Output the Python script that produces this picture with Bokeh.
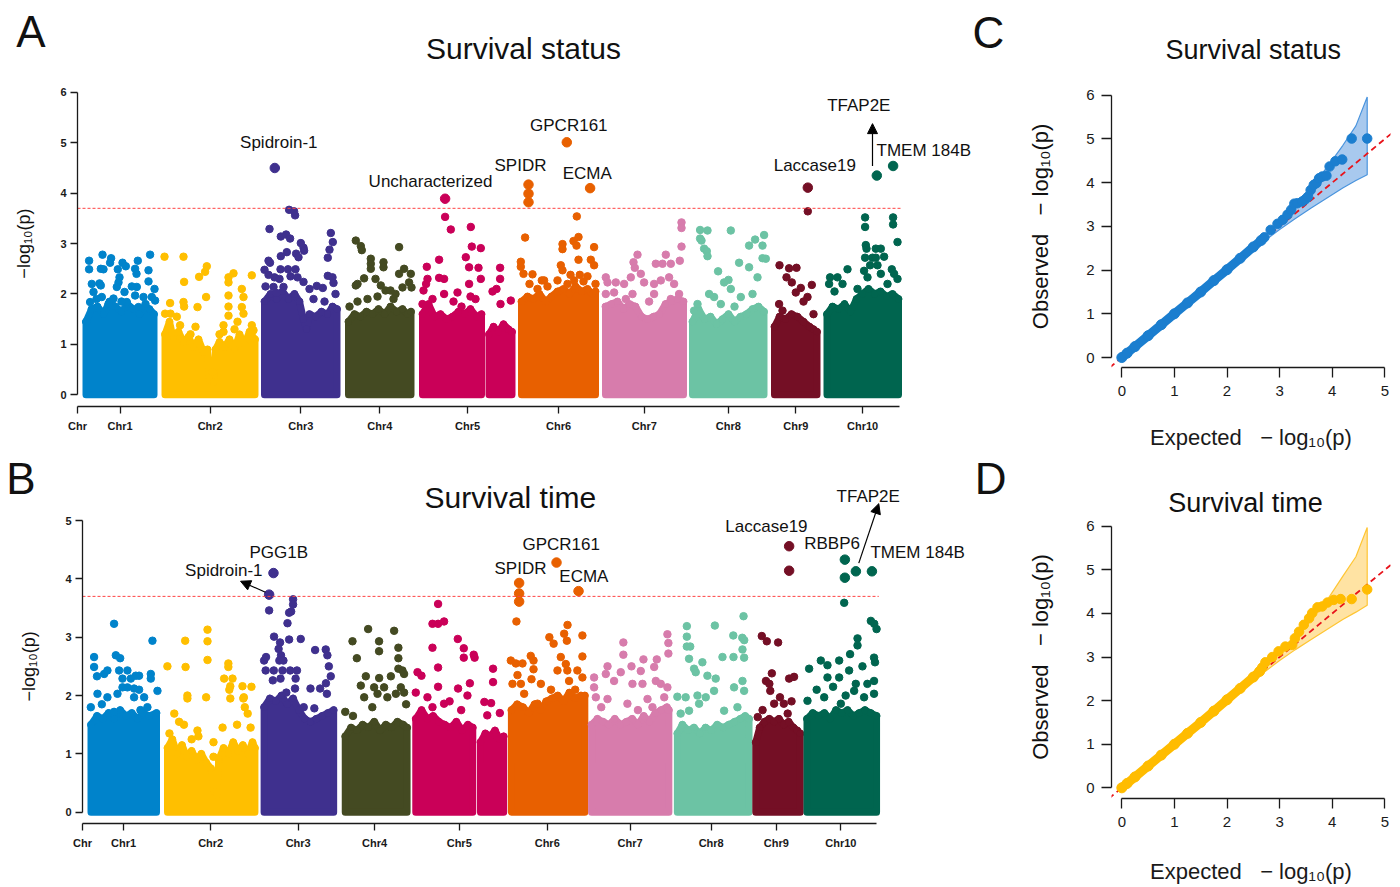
from bokeh.plotting import figure
from bokeh.layouts import row, column
from bokeh.models import FixedTicker, Label, Arrow, NormalHead, Slope, LinearAxis
from bokeh.embed import file_html
from bokeh.resources import INLINE

FONT = "Liberation Sans"

# ---------------- chromosome layout (genome position units) ----------------
chr_names = ["Chr1", "Chr2", "Chr3", "Chr4", "Chr5", "Chr6", "Chr7", "Chr8", "Chr9", "Chr10"]
chr_colors = ["#0083CB", "#FFBF00", "#3F308E", "#444A22", "#CA0058",
              "#E86000", "#D77CAC", "#6CC3A4", "#740F25", "#00654F"]
chr_start = [5.0, 84.3, 183.3, 267.3, 341.6, 440.6, 524.3, 611.6, 693.3, 746.0]
chr_end = [80.0, 181.0, 263.3, 337.3, 438.3, 521.6, 609.3, 690.0, 743.3, 824.3]
genome_end = 821.5
threshold = 3.7

# ---------------- Panel A (survival status): dense-band upper envelopes ----------------
A_env1 = [(8.5, 1.45), (14, 1.7), (20, 1.75), (26, 1.6), (32, 1.85), (38, 1.75), (44, 1.65), (50, 1.8),
          (56, 1.7), (62, 1.6), (68, 1.75), (72, 1.7), (76.5, 1.6)]
A_env2 = [(87.5, 1.2), (92, 1.45), (96, 1.1), (101, 1.25), (106, 1.05), (111, 1.15), (116, 0.95), (121, 1.1),
          (126, 0.85), (130, 0.9), (132, 0.3), (136, 0.25), (138, 0.9), (142, 1.05), (147, 0.95), (152, 1.1),
          (157, 0.9), (162, 1.2), (167, 1.0), (172, 1.25), (177.5, 1.1)]
A_env3 = [(187, 1.85), (193, 2.0), (199, 1.9), (205, 2.05), (211, 1.9), (217, 2.0), (222, 1.85), (226, 1.5),
          (229, 1.3), (232, 1.6), (238, 1.55), (244, 1.65), (250, 1.6), (255, 1.75), (259.5, 1.7)]
A_env4 = [(271, 1.45), (277, 1.6), (283, 1.55), (289, 1.65), (295, 1.6), (301, 1.7), (307, 1.6), (313, 1.75),
          (319, 1.65), (325, 1.7), (330, 1.6), (333.5, 1.65)]
A_env5a = [(345, 1.6), (351, 1.8), (357, 1.55), (363, 1.6), (369, 1.5), (375, 1.55), (381, 1.65), (387, 1.6),
           (393, 1.7), (399, 1.55), (404, 1.6)]
A_env5b = [(411.5, 1.2), (416, 1.35), (421, 1.25), (426, 1.4), (431, 1.3), (434.5, 1.25)]
A_env6 = [(444, 1.85), (450, 1.95), (456, 1.9), (462, 2.0), (468, 1.85), (474, 1.95), (480, 2.05), (486, 2.1),
          (492, 2.0), (498, 2.15), (504, 2.05), (510, 2.1), (515, 2.0), (518, 2.05)]
A_env7 = [(528, 1.75), (534, 1.8), (540, 1.85), (546, 1.7), (552, 1.8), (558, 1.75), (564, 1.55), (570, 1.5),
          (576, 1.55), (582, 1.6), (588, 1.8), (594, 1.85), (600, 1.9), (606, 1.85)]
A_env8 = [(615, 1.45), (621, 1.7), (627, 1.5), (633, 1.55), (639, 1.4), (645, 1.5), (651, 1.6), (657, 1.45),
          (663, 1.55), (669, 1.6), (675, 1.7), (681, 1.75), (686.5, 1.65)]
A_env9 = [(697, 1.35), (702, 1.55), (708, 1.5), (714, 1.6), (720, 1.55), (726, 1.45), (732, 1.35), (736, 1.3),
          (739.5, 1.25)]
A_env10 = [(749.5, 1.6), (755, 1.75), (761, 1.7), (767, 1.8), (773, 1.65), (779, 1.9), (785, 2.0), (791, 2.1),
           (797, 2.0), (803, 2.05), (809, 1.95), (815, 2.0), (821, 1.9)]

# ---------------- Panel A: scattered SNPs above the dense band ----------------
A_chr1 = [(11.6, 2.66), (25.0, 2.78), (33.6, 2.71), (32.6, 2.62), (45.0, 2.62), (48.3, 2.55), (60.3, 2.66),
          (72.6, 2.78), (11.6, 2.49), (23.3, 2.50), (26.0, 2.49), (40.3, 2.49), (57.6, 2.50), (71.0, 2.47),
          (59.0, 2.40), (14.3, 2.20), (22.0, 2.21), (23.3, 2.17), (42.0, 2.33), (41.0, 2.23), (39.3, 2.14),
          (54.3, 2.15), (59.3, 2.14), (71.0, 2.25), (77.0, 2.10), (16.0, 2.04), (24.3, 1.94), (36.0, 1.91),
          (47.0, 2.04), (57.6, 1.97), (66.0, 1.94), (74.3, 1.94), (12.6, 1.84), (31.0, 1.80), (49.3, 1.84),
          (61.0, 1.74), (77.6, 1.87), (9.0, 1.45), (19.0, 1.9), (44, 1.85), (68, 1.8)]
A_chr2 = [(87, 2.74), (106, 2.74), (129.3, 2.55), (127.6, 2.44), (121.6, 2.34), (106.6, 2.24), (156, 2.41),
          (151, 2.33), (151, 2.23), (174.3, 2.37), (128.6, 1.94), (120, 1.74), (106, 1.84), (106.6, 1.75),
          (92.6, 1.82), (151, 1.97), (164.3, 2.10), (166, 1.94), (164.3, 1.74), (166, 1.61), (151, 1.75),
          (151, 1.57), (87.6, 1.61), (93, 1.61), (99.3, 1.55), (102.6, 1.38), (146, 1.38), (146, 1.25),
          (174.3, 1.38), (176, 1.28), (113, 1.2), (118, 1.35), (134, 0.6), (135, 0.45), (157, 1.3),
          (160, 1.45), (142, 1.2)]
A_chr3 = [(211.6, 3.67), (216.6, 3.64), (217.6, 3.56), (192, 3.29), (203.3, 3.14), (208.6, 3.18), (212.6, 3.10),
          (223.3, 3.01), (226, 2.92), (226.6, 2.86), (253.3, 3.21), (255.3, 3.03), (209.3, 2.83), (218.6, 2.80),
          (221, 2.73), (203.3, 2.75), (191, 2.66), (192.5, 2.62), (203, 2.49), (210.5, 2.49), (218, 2.49),
          (187, 2.48), (191, 2.38), (197, 2.33), (202, 2.30), (213, 2.35), (220, 2.33), (226, 2.24),
          (239.3, 2.16), (245.3, 2.12), (250.3, 2.36), (255, 2.33), (256, 2.22), (250.3, 2.72), (252, 2.88),
          (206, 2.14), (196, 2.14), (199, 2.02), (188, 2.15), (232, 2.1), (258, 2.0), (236, 1.9), (247, 1.85)]
A_chr4 = [(278.3, 3.06), (283.3, 2.95), (284.3, 2.87), (321.6, 2.93), (293.3, 2.70), (293.3, 2.60),
          (293.3, 2.50), (306, 2.63), (306, 2.53), (278.3, 2.17), (280, 2.2), (303.3, 2.17), (308, 2.07),
          (313, 2.07), (326.6, 2.50), (321.6, 2.40), (333.3, 2.40), (331.6, 2.23), (325, 2.13), (334, 2.13),
          (286.6, 2.31), (280, 1.85), (290, 1.9), (300, 1.95), (316, 1.9), (272, 1.75), (298, 2.3), (318, 2.0)]
A_chr5 = [(367.6, 3.53), (373.3, 3.28), (393.3, 3.33), (394.3, 2.94), (403.3, 2.91), (361.6, 2.68),
          (388.3, 2.73), (391.6, 2.53), (401, 2.52), (349.3, 2.54), (361.6, 2.32), (366.6, 2.30), (350, 2.30),
          (348.6, 2.20), (346, 2.07), (366.6, 2.0), (380, 2.03), (391.6, 2.2), (403.3, 2.3), (393, 1.95),
          (422.6, 2.52), (422.6, 2.30), (415, 2.05), (433.3, 1.87), (423, 1.8), (419, 2.1), (355, 1.9),
          (376, 1.85), (398, 1.9), (384, 1.75), (345, 1.8)]
A_chr6 = [(499.3, 3.54), (447.6, 3.12), (501, 3.13), (496, 3.05), (485, 2.99), (485, 2.89), (499, 2.96),
          (516.6, 2.93), (501, 2.68), (513.3, 2.68), (443.3, 2.64), (443.3, 2.54), (446, 2.40), (455, 2.39),
          (464.3, 2.27), (466.6, 2.27), (483.3, 2.57), (485, 2.47), (516.6, 2.57), (493, 2.38), (502.3, 2.38),
          (510, 2.35), (480, 2.27), (496.6, 2.27), (452, 2.2), (470, 2.15), (490, 2.2), (506, 2.25),
          (518, 2.2), (460, 2.1)]
A_chr7 = [(604, 3.42), (604, 3.31), (604, 2.94), (602.3, 2.66), (588.3, 2.78), (578.3, 2.60), (585, 2.60),
          (593.3, 2.60), (556, 2.63), (557.3, 2.52), (560, 2.78), (563.3, 2.40), (528.3, 2.33), (530, 2.23),
          (538.3, 2.23), (546.6, 2.20), (553.3, 2.33), (566.6, 2.23), (576.6, 2.20), (583.3, 2.27),
          (591.6, 2.33), (596.6, 2.20), (528.3, 2.0), (536.6, 2.03), (555, 2.0), (576.6, 2.0), (601.6, 2.0),
          (593.3, 1.9), (571.6, 1.85), (548.3, 1.9)]
A_chr8 = [(622.6, 3.27), (630, 3.26), (653.3, 3.26), (622.6, 3.10), (624, 3.06), (626.6, 2.90), (629.3, 2.85),
          (630, 2.75), (686.6, 3.17), (677.6, 3.08), (671.6, 2.96), (685, 2.96), (685, 2.71), (688.3, 2.70),
          (661.6, 2.62), (640.6, 2.45), (651, 2.28), (646.6, 2.23), (671.6, 2.53), (680, 2.33), (631.6, 2.0),
          (636.6, 1.94), (643.3, 1.8), (653.3, 2.1), (663.3, 1.94), (675, 2.0), (620, 1.8), (616.6, 1.67),
          (657, 1.75)]
A_chr9 = [(730.3, 3.64), (702, 2.57), (711.6, 2.51), (719, 2.52), (709, 2.33), (714.3, 2.23), (734.3, 2.18),
          (723.3, 2.12), (718.3, 2.03), (730, 1.94), (701.6, 1.8), (705, 1.67), (726, 1.85), (736, 1.6)]
A_chr10 = [(787.6, 3.52), (787.6, 3.33), (815.6, 3.52), (815.6, 3.38), (820, 3.03), (788.3, 2.97), (789, 2.9),
           (798.3, 2.9), (803.3, 2.9), (806.6, 2.74), (787.6, 2.72), (795, 2.72), (798.3, 2.72), (792.6, 2.57),
           (800, 2.57), (814.3, 2.49), (816.6, 2.40), (770, 2.49), (752.6, 2.33), (760, 2.33), (751.6, 2.2),
           (786.6, 2.46), (790, 2.33), (803.3, 2.4), (765, 2.2), (780, 2.1), (810, 2.2), (820, 2.3), (757, 2.05)]
# highlighted SNPs: (position, -log10 p, chromosome number)
A_hits = [(197.3, 4.50, 3), (367.6, 3.89, 5), (451, 4.17, 6), (451, 3.99, 6), (451, 3.82, 6), (489.3, 5.01, 6),
          (512.6, 4.10, 6), (730.3, 4.11, 9), (799.3, 4.35, 10), (815.6, 4.54, 10)]
A_gene_text = ["Spidroin-1", "Uncharacterized", "SPIDR", "GPCR161", "ECMA", "Laccase19", "TFAP2E"]
A_gene_x = [201.3, 353, 443, 491.3, 509.7, 737.3, 781.3]
A_gene_y = [5.01, 4.23, 4.54, 5.34, 4.40, 4.54, 5.74]

# ---------------- Panel B (survival time) ----------------
B_env1 = [(8.8, 1.5), (15, 1.65), (21, 1.6), (27, 1.7), (33, 1.6), (39, 1.75), (45, 1.65), (51, 1.7), (57, 1.6),
          (63, 1.7), (69, 1.65), (76.6, 1.7)]
B_env2 = [(88, 1.1), (93, 1.25), (98, 1.0), (103, 1.15), (108, 0.95), (113, 1.05), (118, 0.9), (123, 1.0),
          (128, 0.85), (133, 0.75), (136.5, 0.35), (139, 0.3), (141, 0.9), (146, 1.1), (151, 1.0), (156, 1.2),
          (161, 1.05), (166, 1.15), (171, 1.0), (176, 1.2), (178.5, 1.1)]
B_env3 = [(188, 1.8), (194, 1.95), (200, 1.9), (206, 2.0), (212, 1.85), (218, 1.95), (224, 1.75), (230, 1.6),
          (236, 1.55), (242, 1.6), (248, 1.65), (254, 1.7), (260, 1.75)]
B_env4 = [(272, 1.3), (278, 1.45), (284, 1.4), (290, 1.5), (296, 1.45), (302, 1.55), (308, 1.4), (314, 1.5),
          (320, 1.45), (326, 1.55), (332, 1.5), (336, 1.45)]
B_env5a = [(345, 1.6), (351, 1.75), (357, 1.6), (363, 1.65), (369, 1.55), (375, 1.5), (381, 1.45), (387, 1.55),
           (393, 1.4), (399, 1.5), (404, 1.45)]
B_env5b = [(412, 1.2), (417, 1.35), (422, 1.3), (427, 1.4), (432, 1.25), (436, 1.3)]
B_env6 = [(444, 1.75), (450, 1.85), (456, 1.8), (462, 1.7), (468, 1.85), (474, 1.75), (480, 1.9), (486, 1.95),
          (492, 2.0), (498, 1.9), (504, 2.05), (510, 1.95), (516, 2.0), (520, 2.0)]
B_env7 = [(527, 1.5), (533, 1.6), (539, 1.55), (545, 1.5), (551, 1.6), (557, 1.5), (563, 1.55), (569, 1.6),
          (575, 1.5), (581, 1.65), (587, 1.55), (593, 1.7), (599, 1.75), (605, 1.8), (607, 1.75)]
B_env8 = [(615.8, 1.35), (621, 1.5), (627, 1.4), (633, 1.45), (639, 1.35), (645, 1.45), (651, 1.4), (657, 1.5),
          (663, 1.45), (669, 1.5), (675, 1.55), (681, 1.6), (686, 1.65), (690, 1.6)]
B_env9 = [(697, 1.2), (701, 1.45), (706, 1.55), (711, 1.6), (716, 1.55), (721, 1.6), (726, 1.5), (731, 1.55),
          (736, 1.45), (740, 1.4), (743, 1.35)]
B_env10 = [(750, 1.6), (756, 1.7), (762, 1.65), (768, 1.7), (774, 1.6), (780, 1.75), (786, 1.7), (792, 1.75),
           (798, 1.65), (804, 1.7), (810, 1.75), (816, 1.7), (822, 1.65)]

B_chr1 = [(32.7, 3.23), (72.4, 2.94), (12.0, 2.66), (12.0, 2.49), (34.5, 2.69), (39, 2.64), (15, 2.33),
          (22.4, 2.37), (25.8, 2.43), (37.9, 2.43), (46.5, 2.43), (58.6, 2.34), (55.2, 2.34), (70.7, 2.37),
          (70.7, 2.29), (41.4, 2.29), (50, 2.29), (41.4, 2.14), (46.5, 2.14), (53.4, 2.12), (58.6, 2.1),
          (15.5, 2.03), (25.8, 1.97), (36.2, 2.03), (53.4, 1.97), (63.8, 1.97), (77.6, 2.08), (32.7, 1.72),
          (67.2, 1.8), (8.6, 1.8), (20, 1.85), (60, 1.75)]
B_chr2 = [(129.4, 3.13), (129.4, 2.93), (106.3, 2.94), (129.4, 2.61), (87.9, 2.50), (106.7, 2.49), (151, 2.55),
          (151, 2.49), (146.6, 2.29), (155.3, 2.29), (165.6, 2.16), (174.9, 2.15), (153, 2.16), (152, 2.1),
          (167, 1.97), (166.5, 1.95), (168, 1.8), (108.6, 2.0), (108.6, 1.95), (128, 1.97), (153, 1.95),
          (95, 1.69), (100, 1.55), (105, 1.5), (119, 1.4), (120, 1.3), (135.6, 1.2), (135.6, 0.95), (171, 1.69),
          (174, 1.45), (90, 1.35), (113, 1.25), (145, 1.45), (160, 1.5)]
B_chr3 = [(193.2, 3.46), (218, 3.65), (218, 3.56), (216, 3.44), (213.9, 3.42), (212.2, 3.24), (198.3, 3.01),
          (204.5, 2.91), (213.9, 2.96), (225.9, 2.97), (203, 2.8), (205.5, 2.69), (203.8, 2.6), (208, 2.6),
          (240.8, 2.78), (251.8, 2.79), (253.5, 2.69), (188, 2.6), (190, 2.66), (189.6, 2.43), (198, 2.43),
          (207, 2.43), (215, 2.43), (222, 2.43), (197, 2.26), (205, 2.29), (220.6, 2.29), (255, 2.5),
          (257, 2.33), (252, 2.21), (253, 2.03), (236, 2.12), (246, 2.12), (229, 1.8), (240, 1.78), (220, 2.12),
          (211, 2.05)]
B_chr4 = [(295.7, 3.14), (322.6, 3.11), (279.5, 2.93), (307, 2.93), (307, 2.76), (327, 2.82), (284, 2.64),
          (327, 2.64), (293.3, 2.33), (307.1, 2.30), (319.2, 2.33), (327, 2.46), (331.2, 2.43), (332.9, 2.37),
          (288.1, 2.17), (301.9, 2.14), (312.2, 2.14), (329.5, 2.14), (291.6, 1.97), (305.4, 2.03),
          (315.6, 1.97), (324.4, 2.03), (332.9, 2.05), (272, 1.72), (280, 1.65), (300, 1.8), (335, 1.85)]
B_chr5 = [(368.1, 3.57), (362.3, 3.23), (368.1, 3.23), (374.3, 3.27), (388.5, 2.97), (362.3, 2.82),
          (394.7, 2.81), (394.7, 2.65), (405, 2.70), (405.9, 2.65), (368.1, 2.48), (346.8, 2.40), (350.9, 2.34),
          (368.1, 2.15), (388.8, 2.12), (401, 2.21), (398.5, 2.0), (425, 2.46), (425, 2.23), (416, 1.89),
          (423, 1.87), (419, 1.66), (374.3, 1.86), (362.3, 1.80), (357.1, 1.97), (345, 2.05), (380, 1.9),
          (392, 1.75), (432, 1.7)]
B_chr6 = [(449.2, 3.27), (502.1, 3.21), (498.6, 3.06), (501.4, 2.94), (483.3, 3.0), (487.7, 2.89),
          (517.5, 3.03), (517.5, 2.67), (464, 2.68), (466.9, 2.6), (466.9, 2.45), (464.8, 2.28), (443.4, 2.6),
          (448.6, 2.55), (450.3, 2.35), (455.5, 2.55), (495.1, 2.66), (500.3, 2.54), (491.7, 2.43),
          (501.9, 2.43), (503.7, 2.25), (512.3, 2.43), (517.5, 2.31), (445.1, 2.2), (453.8, 2.2), (457.2, 2.03),
          (474.5, 2.2), (471, 1.86), (485, 2.1), (510, 2.1)]
B_chr7 = [(559.9, 2.91), (559.9, 2.70), (605.5, 3.05), (606.5, 2.9), (606.5, 2.72), (580.7, 2.62), (594.5, 2.62),
          (568.3, 2.5), (577.9, 2.42), (591.8, 2.49), (543.5, 2.5), (541.7, 2.37), (529.6, 2.31), (529.6, 2.14),
          (557.2, 2.40), (550.3, 2.25), (569.3, 2.2), (579.7, 2.2), (593.5, 2.25), (598.6, 2.2), (605.5, 2.14),
          (531.4, 1.97), (543.5, 1.94), (564.1, 1.86), (584.9, 1.94), (602.2, 1.97), (537, 1.8), (575, 1.75),
          (590, 1.8)]
B_chr8 = [(684.3, 3.36), (625.6, 3.19), (654.6, 3.20), (673.7, 3.03), (683, 2.99), (685, 2.95), (625.6, 3.01),
          (625.6, 2.84), (629.1, 2.84), (662.5, 2.66), (673.9, 2.66), (683.2, 2.79), (684.9, 2.65),
          (627.9, 2.63), (641.7, 2.57), (646.9, 2.34), (655.5, 2.29), (633.1, 2.46), (634.8, 2.40),
          (615.8, 1.98), (624.4, 1.97), (636.6, 2.0), (645.2, 1.97), (653.8, 2.08), (674.5, 2.14), (683.2, 2.25),
          (684.9, 2.08), (619.2, 1.69), (627.9, 1.74), (638.3, 1.86), (664.2, 1.74), (678, 1.80)]
B_chr9 = [(703.2, 3.02), (708.4, 2.93), (720.1, 2.91), (713.6, 2.38), (707.5, 2.25), (711, 2.2), (731.5, 2.29),
          (736.6, 2.32), (712, 2.08), (722, 1.97), (726, 1.86), (716, 1.86), (699, 1.63), (730, 1.69),
          (704, 1.75), (734, 1.9)]
B_chr10 = [(788.5, 3.59), (816.1, 3.28), (819.6, 3.23), (822, 3.14), (802.3, 2.98), (802.3, 2.86), (794.6, 2.71),
           (819.4, 2.65), (820.4, 2.57), (764.3, 2.6), (771.2, 2.52), (783.3, 2.6), (807.4, 2.5), (752.2, 2.46),
           (771.2, 2.31), (783.3, 2.31), (793.6, 2.43), (800.5, 2.2), (812.5, 2.2), (819.4, 2.25), (750.5, 1.91),
           (767.8, 1.97), (785, 1.86), (798.8, 2.08), (809.1, 1.97), (819.4, 2.03), (760, 2.1), (777, 2.15),
           (790, 2.0)]
B_hits = [(197.7, 4.10, 3), (193.2, 3.73, 3), (452, 3.93, 6), (452, 3.75, 6), (452, 3.61, 6), (490.7, 4.28, 6),
          (513.5, 3.79, 6), (731.5, 4.56, 9), (731.5, 4.14, 9), (789.2, 4.33, 10), (789.2, 4.02, 10),
          (800.6, 4.13, 10), (817.2, 4.13, 10)]
B_gene_text = ["PGG1B", "Spidroin-1", "GPCR161", "SPIDR", "ECMA", "Laccase19", "RBBP6", "TFAP2E"]
B_gene_x = [203.2, 146.3, 495.5, 453.4, 519.0, 708.0, 776.0, 813.4]
B_gene_y = [4.46, 4.14, 4.59, 4.17, 4.04, 4.90, 4.60, 5.41]

# ---------------- QQ plots ----------------
C_exp_main = [0.0, 0.1, 0.25, 0.5, 0.75, 1.0, 1.25, 1.5, 1.75, 2.0, 2.25, 2.5, 2.65]
C_obs_main = [0.0, 0.1, 0.25, 0.5, 0.75, 1.0, 1.25, 1.5, 1.76, 2.01, 2.27, 2.53, 2.68]
C_exp_tail = [2.71, 2.83, 2.96, 3.06, 3.15, 3.22, 3.28, 3.34, 3.43, 3.49, 3.54, 3.59, 3.65, 3.70, 3.75, 3.81,
              3.89, 3.95, 4.06, 4.19, 4.37, 4.665]
C_obs_tail = [2.75, 2.92, 3.06, 3.15, 3.27, 3.38, 3.52, 3.53, 3.57, 3.62, 3.68, 3.83, 3.95, 3.99, 4.10, 4.14,
              4.16, 4.37, 4.49, 4.53, 5.01, 5.01]
C_band_x = [2.7, 3.0, 3.3, 3.6, 3.9, 4.2, 4.45, 4.665]
C_band_hi = [2.76, 3.12, 3.5, 3.9, 4.35, 4.85, 5.3, 5.96]
C_band_lo = [2.66, 2.93, 3.18, 3.42, 3.65, 3.88, 4.05, 4.18]

D_exp_main = [0.0, 0.1, 0.25, 0.5, 0.75, 1.0, 1.25, 1.5, 1.75, 2.0, 2.25, 2.5, 2.62]
D_obs_main = [0.0, 0.1, 0.25, 0.5, 0.75, 1.0, 1.25, 1.5, 1.76, 2.02, 2.28, 2.54, 2.67]
D_exp_tail = [2.67, 2.73, 2.86, 2.98, 3.11, 3.24, 3.29, 3.37, 3.46, 3.56, 3.62, 3.72, 3.81, 3.91, 4.03, 4.16,
              4.37, 4.665]
D_obs_tail = [2.76, 2.88, 3.00, 3.13, 3.24, 3.28, 3.43, 3.58, 3.74, 3.89, 4.01, 4.14, 4.16, 4.25, 4.31, 4.33,
              4.33, 4.55]
D_band_x = [2.65, 3.0, 3.3, 3.6, 3.9, 4.2, 4.45, 4.665]
D_band_hi = [2.72, 3.1, 3.45, 3.85, 4.3, 4.85, 5.3, 5.97]
D_band_lo = [2.6, 2.92, 3.17, 3.4, 3.63, 3.86, 4.03, 4.19]

A_envs = [[A_env1], [A_env2], [A_env3], [A_env4], [A_env5a, A_env5b], [A_env6], [A_env7], [A_env8], [A_env9], [A_env10]]
A_pts = [A_chr1, A_chr2, A_chr3, A_chr4, A_chr5, A_chr6, A_chr7, A_chr8, A_chr9, A_chr10]
B_envs = [[B_env1], [B_env2], [B_env3], [B_env4], [B_env5a, B_env5b], [B_env6], [B_env7], [B_env8], [B_env9], [B_env10]]
B_pts = [B_chr1, B_chr2, B_chr3, B_chr4, B_chr5, B_chr6, B_chr7, B_chr8, B_chr9, B_chr10]

INK = "#1a1a1a"


def style_axes(p, tick_out, label_size, bold):
    for ax in p.axis:
        ax.axis_line_color = INK
        ax.axis_line_width = 1.3
        ax.major_tick_line_color = INK
        ax.major_tick_line_width = 1.3
        ax.minor_tick_line_color = None
        ax.major_tick_in = 0
        ax.major_tick_out = tick_out
        ax.major_label_text_font = FONT
        ax.major_label_text_font_size = label_size
        ax.major_label_text_font_style = "bold" if bold else "normal"
        ax.major_label_text_color = INK
        ax.axis_label_text_font = FONT
        ax.axis_label_text_font_style = "normal"
        ax.axis_label_text_color = INK


def add_text(p, x, y, text, size, align="center"):
    p.add_layout(Label(x=x, y=y, text=text, text_font=FONT, text_font_size=size, text_color="#111111",
                       text_align=align, text_baseline="middle"))


def add_side_text(p, yval, text, size, standoff, vertical=False):
    # an extra, line-less left axis whose single tick label carries a text
    ax = LinearAxis(ticker=FixedTicker(ticks=[yval]), major_label_overrides={yval: text},
                    axis_line_color=None, major_tick_line_color=None, minor_tick_line_color=None,
                    major_tick_out=0, major_tick_in=0, major_label_standoff=standoff,
                    major_label_text_font=FONT, major_label_text_font_size=size,
                    major_label_text_color="#111111",
                    major_label_orientation="vertical" if vertical else "horizontal")
    p.add_layout(ax, "left")


def manhattan(height, x_end, y_lo, y_hi, top_tick, borders, envs, pts, hits, ylab_standoff):
    p = figure(width=1014, height=height, x_range=(0, x_end), y_range=(y_lo, y_hi),
               output_backend="svg", toolbar_location=None,
               min_border_left=borders[0], min_border_right=borders[1],
               min_border_top=borders[2], min_border_bottom=borders[3])
    p.outline_line_color = None
    p.grid.visible = False
    for i in range(10):
        c = chr_colors[i]
        for seg in envs[i]:
            xs = [seg[0][0]] + [q[0] for q in seg] + [seg[-1][0]]
            ys = [0.0] + [q[1] for q in seg] + [0.0]
            p.patch(xs, ys, fill_color=c, line_color=c, line_width=7, line_join="round")
            p.scatter([q[0] for q in seg], [q[1] for q in seg], size=7, color=c)
        p.scatter([q[0] for q in pts[i]], [q[1] for q in pts[i]], size=7.5, color=c)
    p.scatter([h[0] for h in hits], [h[1] for h in hits], size=9.5,
              color=[chr_colors[h[2] - 1] for h in hits])
    p.line([0, chr_end[-1]], [threshold, threshold], line_color="#FF4444", line_dash="3 2", line_width=1)
    mids = [round((s + e) / 2, 1) for s, e in zip(chr_start, chr_end)]
    p.xaxis.ticker = FixedTicker(ticks=[0] + mids)
    overrides = {0: "Chr"}
    for m, n in zip(mids, chr_names):
        overrides[m] = n
    p.xaxis.major_label_overrides = overrides
    p.xaxis.bounds = (0, genome_end)
    p.yaxis.ticker = FixedTicker(ticks=list(range(0, top_tick + 1)))
    p.yaxis.bounds = (0, top_tick)
    style_axes(p, 7, "11px", True)
    p.xaxis.major_label_standoff = 6
    p.yaxis.major_label_standoff = 4
    add_side_text(p, top_tick / 2, "\u2212log\u2081\u2080(p)", "18px", ylab_standoff, vertical=True)
    return p


def qq(height, y_lo, y_hi, borders, exp_main, obs_main, exp_tail, obs_tail, bx, bhi, blo,
       pcol, bfill, bline, xlab_standoff):
    p = figure(width=385, height=height, x_range=(-0.196, 5.108), y_range=(y_lo, y_hi),
               output_backend="svg", toolbar_location=None,
               min_border_left=borders[0], min_border_right=borders[1],
               min_border_top=borders[2], min_border_bottom=borders[3])
    p.outline_line_color = None
    p.grid.visible = False
    p.patch(bx + bx[::-1], bhi + blo[::-1], fill_color=bfill, line_color=bline, line_width=1.2)
    p.add_layout(Slope(gradient=1, y_intercept=0, line_color="#E8141B", line_dash="6 4", line_width=1.8))
    p.line(exp_main, obs_main, line_width=9, color=pcol, line_cap="round", level="overlay")
    p.scatter(exp_main, obs_main, size=10, color=pcol, level="overlay")
    p.scatter(exp_tail, obs_tail, size=9.5, color=pcol, level="overlay")
    p.xaxis.ticker = FixedTicker(ticks=[0, 1, 2, 3, 4, 5])
    p.xaxis.bounds = (0, 5)
    p.yaxis.ticker = FixedTicker(ticks=[0, 1, 2, 3, 4, 5, 6])
    p.yaxis.bounds = (0, 6)
    style_axes(p, 10, "15px", False)
    p.xaxis.major_label_standoff = 8
    p.yaxis.major_label_standoff = 7
    lab = "\u2212\u00a0log\u2081\u2080(p)"
    p.xaxis.axis_label = "Expected\u00a0\u00a0\u00a0" + lab
    p.xaxis.axis_label_text_font_size = "22px"
    p.xaxis.axis_label_standoff = xlab_standoff
    add_side_text(p, 3, "Observed\u00a0\u00a0\u00a0" + lab, "22px", 30, vertical=True)
    return p


# ---- Panel A (canvas x 0-1014, y 0-452) ----
pA = manhattan(452, 935, -0.232, 7.823, 6, (77, 2, 0, 46), A_envs, A_pts, A_hits, 23)
for t, x, y in zip(A_gene_text, A_gene_x, A_gene_y):
    add_text(pA, x, y, t, "17px")
add_text(pA, 799, 4.84, "TMEM 184B", "17px", align="left")
pA.add_layout(Arrow(end=NormalHead(size=10, fill_color="black", line_color="black"),
                    x_start=795, y_start=4.54, x_end=795, y_end=5.38, line_width=1.2, line_color="black"))
add_side_text(pA, 7.21, "A", "44px", -34)
add_text(pA, 446, 6.87, "Survival status", "30px")
add_text(pA, 911, 7.19, "C", "44px")

# ---- Panel B (canvas x 0-1014, y 452-886) ----
pB = manhattan(434, 964.8, -0.194, 6.167, 5, (82, 0, 0, 63), B_envs, B_pts, B_hits, 23)
for t, x, y in zip(B_gene_text, B_gene_x, B_gene_y):
    add_text(pB, x, y, t, "17px")
add_text(pB, 815.7, 4.46, "TMEM 184B", "17px", align="left")
pB.add_layout(Arrow(end=NormalHead(size=10, fill_color="black", line_color="black"),
                    x_start=189.4, y_start=3.77, x_end=163.6, y_end=3.96, line_width=1.2, line_color="black"))
pB.add_layout(Arrow(end=NormalHead(size=10, fill_color="black", line_color="black"),
                    x_start=803.6, y_start=4.27, x_end=824.3, y_end=5.29, line_width=1.2, line_color="black"))
add_side_text(pB, 5.72, "B", "44px", -19)
add_text(pB, 443, 5.40, "Survival time", "30px")
add_text(pB, 940, 5.72, "D", "44px")

# ---- Panel C (canvas x 1014-1399, y 0-452) ----
pC = qq(452, -0.228, 8.168, (97, 9, 0, 84), C_exp_main, C_obs_main, C_exp_tail, C_obs_tail,
        C_band_x, C_band_hi, C_band_lo, "#1B7ECF", "#A8C9EE", "#4A94DD", 26)
add_text(pC, 2.50, 7.03, "Survival status", "27px")

# ---- Panel D (canvas x 1014-1399, y 452-886) ----
pD = qq(434, -0.245, 7.692, (97, 9, 0, 87), D_exp_main, D_obs_main, D_exp_tail, D_obs_tail,
        D_band_x, D_band_hi, D_band_lo, "#FFBC00", "#FFE3A3", "#FFC533", 29)
add_text(pD, 2.35, 6.53, "Survival time", "27px")

layout = column(row(column(pA), column(pC)), row(column(pB), column(pD)))
open("out.html", "w").write(file_html(layout, INLINE))
